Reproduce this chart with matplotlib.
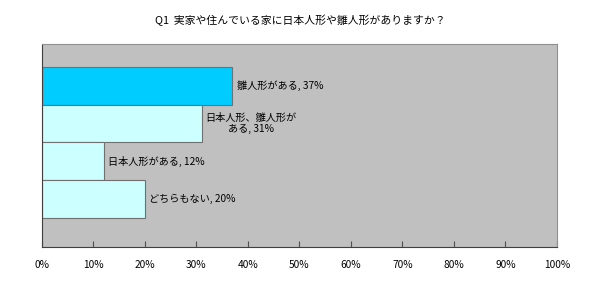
import matplotlib
matplotlib.use("Agg")
import matplotlib.pyplot as plt

plt.rcParams['font.family'] = ['Noto Sans CJK JP', 'DejaVu Sans']

# data, top bar first
labels = ['雛人形がある, 37%', '日本人形、雛人形が\nある, 31%', '日本人形がある, 12%', 'どちらもない, 20%']
values = [37, 31, 12, 20]
colors = ['#00CCFF', '#CCFFFF', '#CCFFFF', '#CCFFFF']
ticks = [0, 10, 20, 30, 40, 50, 60, 70, 80, 90, 100]
tick_labels = [str(t) + '%' for t in ticks]

fig = plt.figure(figsize=(6, 2.85), dpi=100)
ax = fig.add_axes([0.07, 0.1333, 0.858, 0.7123])
ax.set_facecolor('#C0C0C0')

ypos = [3, 2, 1, 0]
ax.barh(ypos, values, height=1.0, color=colors, edgecolor='#707070', linewidth=0.8)

# data labels just right of each bar
for y, v, lab in zip(ypos, values, labels):
    ax.text(v + 0.8, y, lab, ha='left', va='center', fontsize=7.3, multialignment='center')

ax.set_xlim(0, 100)
ax.set_ylim(-1.26, 4.1)
ax.set_xticks(ticks)
ax.set_xticklabels(tick_labels, fontsize=7.3)
ax.set_yticks([])
ax.tick_params(axis='x', direction='in', length=4, pad=9, color='#505050')
for s in ['top', 'right']:
    ax.spines[s].set_color('#909090')
for s in ['left', 'bottom']:
    ax.spines[s].set_color('#404040')

fig.text(0.5, 0.93, 'Q1  実家や住んでいる家に日本人形や雛人形がありますか？', ha='center', va='center', fontsize=7.8)

fig.savefig('out.png', dpi=100)
